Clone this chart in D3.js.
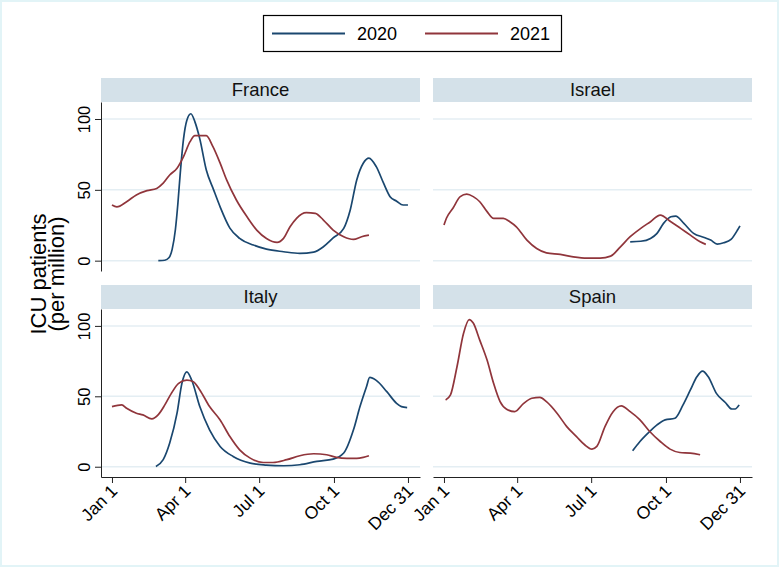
<!DOCTYPE html>
<html>
<head>
<meta charset="utf-8">
<script src="https://cdn.jsdelivr.net/npm/d3@7"></script>
<style>
  html, body { margin: 0; padding: 0; background: #fff; }
  svg { display: block; font-family: "Liberation Sans", Arial, Helvetica, sans-serif; }
</style>
</head>
<body>
<svg id="chart" width="780" height="568"></svg>
<script>
// ---------- DATA (day of year, ICU patients per million) ----------
const countries = ["France", "Israel", "Italy", "Spain"];
const years = ["2020", "2021"];
const tickDays = [0, 90, 181, 273, 364];
const tickLabels = ["Jan 1", "Apr 1", "Jul 1", "Oct 1", "Dec 31"];
const yTicks = [0, 50, 100];

const france2020 = [[57,0],[65,0.3],[70,2],[74,8],[78,22],[81,40],[84,62],[88,86],[92,99],[97,103.7],[102,98],[108,86],[116,64],[125,50],[133,38],[145,23],[157,15.7],[174,11],[190,8.1],[211,6.3],[231,5.1],[248,6],[260,9.8],[272,16],[285,22.8],[293,35.8],[301,57],[309,68.8],[316,72.4],[325,66.4],[334,54.7],[342,45.2],[350,42],[358,39.3],[364,39.3]];
const france2021 = [[0,39.3],[6,38],[18,41.6],[30,46.4],[43,49.4],[55,51],[63,54.7],[71,60.5],[80,65.3],[88,73.5],[96,84],[102,88.2],[116,88.2],[124,80.6],[133,68.8],[141,57],[153,42.8],[166,31],[178,21.6],[190,15.7],[203,12.9],[211,15.7],[219,23.9],[227,29.9],[239,33.9],[250,33.4],[260,28.7],[272,21.6],[285,16.9],[297,15],[307,16.9],[316,18]];

const israel2020 = [[229,13.3],[242,13.7],[254,15.7],[262,19.3],[270,26.3],[279,31],[285,31.5],[295,26.3],[307,19.3],[320,16.4],[328,14.5],[336,11.7],[344,12.6],[353,15],[361,21.6],[364,24.6]];
const israel2021 = [[0,25.1],[3,29.9],[11,37],[20,45.2],[28,46.9],[36,45.2],[44,41.6],[53,34.6],[61,29.9],[73,29.9],[81,27.5],[89,23.9],[102,14.5],[114,8.6],[126,5.5],[143,4.4],[159,2.7],[176,1.8],[192,1.8],[205,3.2],[217,9.8],[229,16.9],[242,22.8],[254,27.5],[266,32.2],[279,27.5],[291,22.8],[303,18],[315,13.3],[322,11.5]];

const italy2020 = [[54,0.2],[63,5],[71,16.8],[80,38],[86,59.2],[92,67.4],[98,61.6],[108,42.7],[120,26.2],[133,14.4],[149,7.3],[170,2.6],[190,1.2],[211,0.7],[231,1.4],[252,3.8],[272,5.4],[285,9.7],[297,26.2],[305,42.7],[313,56.8],[317,63.4],[325,61.3],[338,53.3],[350,45],[356,42.7],[363,42]];
const italy2021 = [[0,42.7],[12,43.9],[18,41.5],[30,38],[38,36.8],[49,34],[57,37],[65,43.9],[73,52.1],[82,59.2],[92,61.5],[100,60.4],[108,54.5],[120,42.7],[133,33.2],[145,21.4],[157,12],[170,6.1],[186,3],[198,3],[215,5],[231,7.8],[248,9.2],[264,8.5],[276,6.6],[289,5.9],[301,5.9],[309,6.6],[316,7.8]];

const spain2020 = [[232,11.3],[241,17.9],[253,25],[262,29.7],[272,33.3],[284,34.4],[294,43.9],[303,54.5],[311,63.9],[318,67.9],[325,63.9],[335,52.1],[346,45.6],[354,41],[358,41],[363,43.9]];
const spain2021 = [[2,47.4],[8,51],[16,71],[24,94.6],[31,104.5],[36,102],[44,89.9],[53,75.7],[61,59.2],[69,46.2],[77,40.8],[87,39.1],[98,45],[108,48.6],[118,49.3],[126,46.2],[139,38],[151,28.5],[163,21.4],[173,15.6],[182,12.5],[188,14.4],[198,28.5],[208,39.1],[218,43.2],[229,39.1],[241,33.3],[253,25],[266,17.9],[278,12.5],[290,10.1],[303,9.7],[315,8.5]];

// ---------- STYLE / LAYOUT ----------
const colors = { "2020": "#1a476f", "2021": "#90353b" };
const seriesByCountry = {
  France: { "2020": france2020, "2021": france2021 },
  Israel: { "2020": israel2020, "2021": israel2021 },
  Italy:  { "2020": italy2020,  "2021": italy2021 },
  Spain:  { "2020": spain2020,  "2021": spain2021 }
};
const cols = [{ x0: 101, x1: 420 }, { x0: 433, x1: 752 }];
const rows = [{ hTop: 78, pTop: 102, pBot: 271 }, { hTop: 285, pTop: 309, pBot: 477 }];
const xDomain = [-13.5, 378.8];
const yDomain = [-7.3, 112];

const svg = d3.select("#chart");

// outer faint border
svg.append("rect").attr("x", 1).attr("y", 1).attr("width", 777).attr("height", 565)
  .attr("fill", "#ffffff").attr("stroke", "#e2f4f7").attr("stroke-width", 2);

// legend
const lg = svg.append("g");
lg.append("rect").attr("x", 263.5).attr("y", 15.5).attr("width", 298).attr("height", 36)
  .attr("fill", "#fff").attr("stroke", "#000").attr("stroke-width", 1.2);
const legendItems = [{ year: "2020", lx: 272, tx: 357 }, { year: "2021", lx: 425, tx: 510 }];
legendItems.forEach(it => {
  lg.append("line").attr("x1", it.lx).attr("x2", it.lx + 73).attr("y1", 33.5).attr("y2", 33.5)
    .attr("stroke", colors[it.year]).attr("stroke-width", 2);
  lg.append("text").attr("x", it.tx).attr("y", 40).attr("font-size", 18).attr("fill", "#000").text(it.year);
});

// y axis title
const yt = svg.append("g").attr("transform", "translate(0,274) rotate(-90)");
yt.append("text").attr("x", 0).attr("y", 46).attr("text-anchor", "middle").attr("font-size", 22).attr("fill", "#000").text("ICU patients");
yt.append("text").attr("x", 0).attr("y", 64).attr("text-anchor", "middle").attr("font-size", 22).attr("fill", "#000").text("(per million)");

countries.forEach((country, i) => {
  const r = rows[Math.floor(i / 2)];
  const c = cols[i % 2];
  const x = d3.scaleLinear().domain(xDomain).range([c.x0, c.x1]);
  const y = d3.scaleLinear().domain(yDomain).range([r.pBot, r.pTop]);
  const g = svg.append("g");

  // header
  g.append("rect").attr("x", c.x0).attr("y", r.hTop).attr("width", c.x1 - c.x0).attr("height", r.pTop - r.hTop)
    .attr("fill", "#d4e1e9");
  g.append("text").attr("x", (c.x0 + c.x1) / 2).attr("y", r.hTop + 18).attr("text-anchor", "middle")
    .attr("font-size", 18.5).attr("fill", "#111").text(country);

  // gridlines
  g.selectAll(".grid").data(yTicks).enter().append("line")
    .attr("x1", c.x0).attr("x2", c.x1).attr("y1", d => y(d)).attr("y2", d => y(d))
    .attr("stroke", "#e4eef3").attr("stroke-width", 1.5);

  // lines
  const line = d3.line().x(d => x(d[0])).y(d => y(d[1])).curve(d3.curveMonotoneX);
  years.forEach(yr => {
    g.append("path").datum(seriesByCountry[country][yr]).attr("d", line)
      .attr("fill", "none").attr("stroke", colors[yr]).attr("stroke-width", 1.7)
      .attr("stroke-linejoin", "round");
  });

  // y axis (left column)
  if (i % 2 === 0) {
    const ya = g.append("g").attr("transform", `translate(${c.x0},0)`)
      .call(d3.axisLeft(y).tickValues(yTicks).tickSize(6).tickSizeOuter(0));
    ya.select(".domain").attr("stroke", "#222");
    ya.selectAll(".tick line").attr("stroke", "#222");
    ya.selectAll(".tick text").attr("transform", "rotate(-90)").attr("x", 0).attr("y", -11)
      .attr("dy", 0).attr("text-anchor", "middle").attr("font-size", 16.5).attr("fill", "#000")
      .attr("font-family", "Liberation Sans, Arial, sans-serif");
  }
  // x axis (bottom row)
  if (i >= 2) {
    const xa = g.append("g").attr("transform", `translate(0,${r.pBot})`)
      .call(d3.axisBottom(x).tickValues(tickDays).tickFormat((d, k) => tickLabels[k]).tickSize(6).tickSizeOuter(0));
    xa.select(".domain").attr("stroke", "#222");
    xa.selectAll(".tick line").attr("stroke", "#222");
    xa.selectAll(".tick text").attr("x", 0).attr("y", 0).attr("dy", 0)
      .attr("transform", "translate(6,15) rotate(-45)").attr("text-anchor", "end")
      .attr("font-size", 17.5).attr("fill", "#000").attr("font-family", "Liberation Sans, Arial, sans-serif");
  }
});
</script>
</body>
</html>
